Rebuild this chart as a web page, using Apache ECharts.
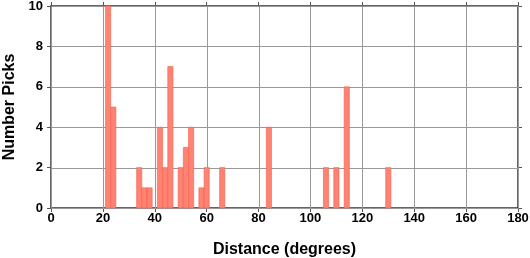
<!DOCTYPE html>
<html>
<head>
<meta charset="utf-8">
<script src="https://cdn.jsdelivr.net/npm/echarts@6/dist/echarts.min.js"></script>
<style>html,body{margin:0;padding:0;background:#fff}#c{width:530px;height:258px}</style>
</head>
<body>
<div id="c"></div>
<script>
// Bin centres (degrees) and counts
const binCenters = [22, 24, 34, 36, 38, 42, 44, 46, 50, 52, 54, 58, 60, 66, 84, 106, 110, 114, 130];
const binCounts  = [10, 5, 2, 1, 1, 4, 2, 7, 2, 3, 4, 1, 2, 2, 4, 2, 2, 6, 2];
const binWidth = 2;
const xTicks = [0, 20, 40, 60, 80, 100, 120, 140, 160, 180];
const yTicks = [0, 2, 4, 6, 8, 10];
const xTitle = 'Distance (degrees)';
const yTitle = 'Number Picks';

const chart = echarts.init(document.getElementById('c'), null, {renderer: 'canvas'});
const font = 'Liberation Sans, Helvetica, Arial, sans-serif';
const xMin = xTicks[0], xMax = xTicks[xTicks.length - 1];
const yMin = yTicks[0], yMax = yTicks[yTicks.length - 1];
function axisLine() { return {show: true, onZero: false, lineStyle: {color: '#333', width: 1.5}}; }
function tick() { return {show: true, inside: false, length: 4, lineStyle: {color: '#555', width: 1}}; }
// gridline data: vertical lines at x ticks, horizontal at y ticks
const gridData = xTicks.map(v => [v, 0]).concat(yTicks.map(v => [v, 1]));
chart.setOption({
  animation: false,
  grid: {left: 51, right: 12, top: 6, bottom: 50, containLabel: false, outerBoundsMode: 'none'},
  xAxis: [{
    type: 'value', min: xMin, max: xMax, interval: 20,
    position: 'bottom',
    name: xTitle, nameLocation: 'middle', nameGap: 34,
    nameTextStyle: {fontFamily: font, fontWeight: 'bold', fontSize: 16, color: '#000'},
    axisLine: axisLine(), axisTick: tick(),
    axisLabel: {fontFamily: font, fontWeight: 'bold', fontSize: 13, color: '#000', margin: 4},
    splitLine: {show: false}
  }, {
    type: 'value', min: xMin, max: xMax, interval: 20,
    position: 'top', axisLine: axisLine(), axisTick: tick(),
    axisLabel: {show: false}, splitLine: {show: false}
  }],
  yAxis: [{
    type: 'value', min: yMin, max: yMax, interval: 2,
    position: 'left',
    name: yTitle, nameLocation: 'middle', nameGap: 27,
    nameTextStyle: {fontFamily: font, fontWeight: 'bold', fontSize: 16, color: '#000'},
    axisLine: axisLine(), axisTick: tick(),
    axisLabel: {fontFamily: font, fontWeight: 'bold', fontSize: 13, color: '#000', margin: 8},
    splitLine: {show: false}
  }, {
    type: 'value', min: yMin, max: yMax, interval: 2,
    position: 'right', axisLine: axisLine(), axisTick: tick(),
    axisLabel: {show: false}, splitLine: {show: false}
  }],
  series: [{
    type: 'custom',
    xAxisIndex: 0, yAxisIndex: 0,
    silent: true,
    data: gridData,
    renderItem: function (params, api) {
      const v = api.value(0), dir = api.value(1);
      const a = dir === 0 ? api.coord([v, yMin]) : api.coord([xMin, v]);
      const b = dir === 0 ? api.coord([v, yMax]) : api.coord([xMax, v]);
      return {
        type: 'line',
        shape: {x1: Math.round(a[0]) + 0.5, y1: Math.round(a[1]) + 0.5, x2: Math.round(b[0]) + 0.5, y2: Math.round(b[1]) + 0.5},
        style: {stroke: '#999999', lineWidth: 1}
      };
    },
    z: 1
  }, {
    type: 'custom',
    xAxisIndex: 0, yAxisIndex: 0,
    data: binCenters.map((c, i) => [c, binCounts[i]]),
    renderItem: function (params, api) {
      const c = api.value(0), v = api.value(1);
      const p0 = api.coord([c - binWidth / 2, 0]);
      const p1 = api.coord([c + binWidth / 2, v]);
      return {
        type: 'rect',
        shape: {x: p0[0], y: p1[1], width: p1[0] - p0[0], height: p0[1] - p1[1]},
        style: {fill: '#FF8272', stroke: '#F4604F', lineWidth: 0.6}
      };
    },
    z: 3
  }]
});
</script>
</body>
</html>
